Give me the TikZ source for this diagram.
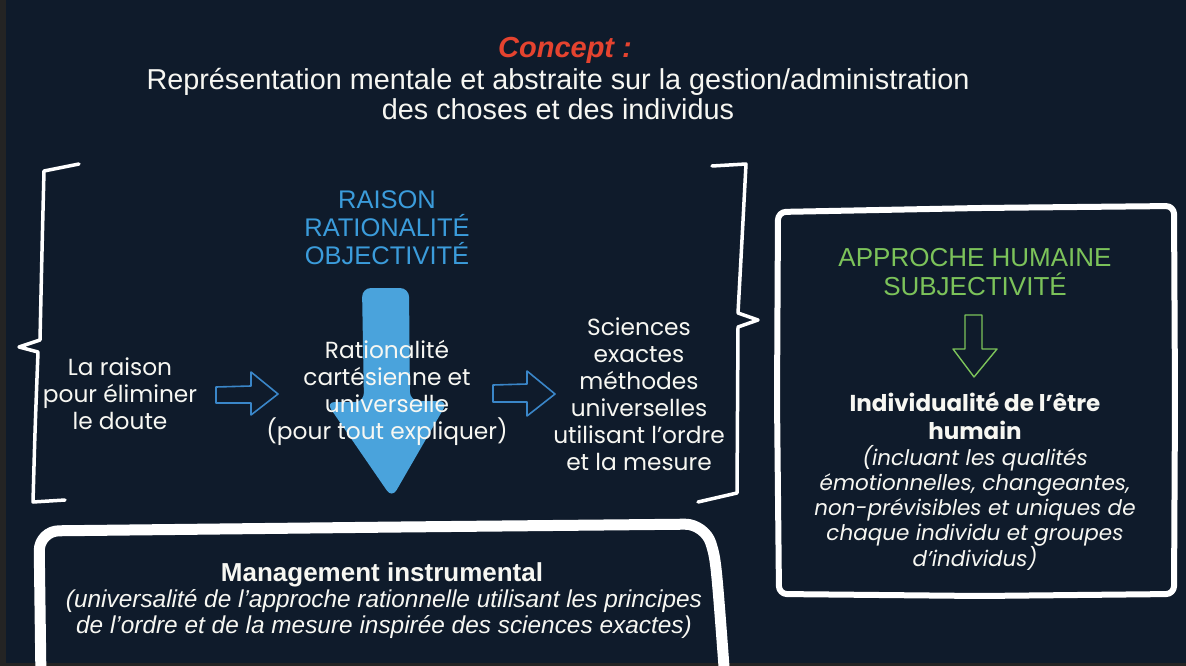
\documentclass[tikz,border=0pt]{standalone}
\usepackage{fontspec}
\setmainfont{Liberation Sans}
\newfontfamily\pop{Poppins}
\definecolor{bg}{HTML}{0F1B2B}
\definecolor{strip}{HTML}{242424}
\definecolor{conceptred}{HTML}{E5432F}
\definecolor{textblue}{HTML}{3B9CDB}
\definecolor{bigblue}{HTML}{4AA3DC}
\definecolor{lineblue}{HTML}{3A86C8}
\definecolor{green}{HTML}{7CC35A}
\definecolor{cream}{HTML}{F7F7F2}
\tikzset{
  txt/.style={text=cream, align=center, inner sep=0pt},
  popfont/.style={font=\pop\fontsize{23.3}{27}\selectfont},
  hollow/.style={draw=lineblue, line width=1.6pt, line join=round},
  brace/.style={draw=white, line width=3.5pt, line join=round, line cap=round},
}
\begin{document}
\begin{tikzpicture}[x=1pt,y=-1pt]
\useasboundingbox (0,0) rectangle (1186,666);
\fill[bg] (0,0) rectangle (1186,666);
\fill[strip] (0,0) rectangle (6,666);
\fill[strip] (0,663) rectangle (1186,666);

% title
\node[txt, text=conceptred, font=\bfseries\itshape\fontsize{29}{30}\selectfont] (concept) at (565,50) {Concept :};
\node[txt, font=\fontsize{28.8}{30}\selectfont] (defn) at (558,94) {Représentation mentale et abstraite sur la gestion/administration\\des choses et des individus};

% brackets
\draw[brace] (79,164) -- (44,171) .. controls (42,250) .. (40,340) -- (19,347) -- (38,352) .. controls (35,430) .. (33,502) -- (65,500);
\draw[brace] (712,166) -- (746,164) .. controls (742,240) .. (738,313) -- (758,320) -- (738,327) .. controls (738,410) .. (737,493) -- (698,502);

% blue headings
\node[txt, text=textblue, font=\fontsize{25.5}{28}\selectfont] (raison) at (387,228) {RAISON\\RATIONALITÉ\\OBJECTIVITÉ};

% big blue arrow
\fill[bigblue, rounded corners=9] (362,288) -- (409,288) -- (410,401) -- (448,401) -- (392,498) -- (326,402) -- (364,402) -- cycle;

% hollow arrows
\draw[hollow] (216,387) -- (251,386) -- (251,372) -- (278,394) -- (251,415) -- (251,403) -- (216,403) -- cycle;
\draw[hollow] (493,385) -- (527,384) -- (527,371) -- (555,394) -- (527,416) -- (527,402) -- (493,402) -- cycle;

% middle texts
\node[txt, popfont] (doute) at (120,394) {La raison\\pour éliminer\\le doute};
\node[txt, popfont] (carte) at (387,393) {Rationalité\\cartésienne et\\universelle\\(pour tout expliquer)};
\node[txt, popfont] (sciences) at (639,394) {Sciences\\exactes\\méthodes\\universelles\\utilisant l’ordre\\et la mesure};

% right box
\draw[white, line width=6pt, rounded corners=8, line join=round] (778,212) -- (980,208) -- (1174,206) -- (1175,400) -- (1174,594) -- (980,596) -- (779,594) -- (777,400) -- cycle;
\node[txt, text=green, font=\fontsize{26}{29}\selectfont] (approche) at (975,272) {APPROCHE HUMAINE\\SUBJECTIVITÉ};
\draw[draw=green, line width=1.4pt, line join=round] (965,315) -- (982,315) -- (982,349) -- (997,349) -- (974,377) -- (953,349) -- (965,349) -- cycle;
\node[txt, font=\pop\bfseries\fontsize{23}{28}\selectfont] (indiv) at (975,416) {Individualité de l’être\\humain};
\node[txt, font=\pop\itshape\fontsize{21.5}{25}\selectfont] (incluant) at (975,508) {(incluant les qualités\\émotionnelles, changeantes,\\non-prévisibles et uniques de\\chaque individu et groupes\\d’individus)};

% bottom box
\draw[white, line width=11pt, rounded corners=20, line join=round] (41,680) -- (39,531) -- (400,527) -- (705,524) .. controls (716,560) .. (725,680);
\node[txt, font=\bfseries\fontsize{26}{28}\selectfont] (mgmt) at (382,575) {Management instrumental};
\node[txt, font=\itshape\fontsize{24.4}{25.5}\selectfont] (univ) at (384,614) {(universalité de l’approche rationnelle utilisant les principes\\de l’ordre et de la mesure inspirée des sciences exactes)};
\end{tikzpicture}
\end{document}
